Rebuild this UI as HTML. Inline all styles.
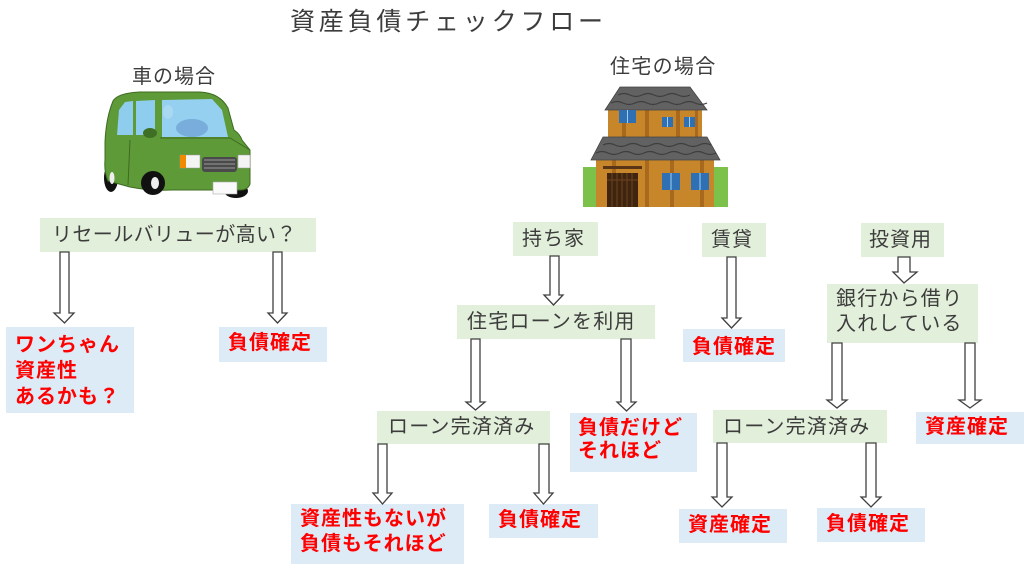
<!DOCTYPE html>
<html><head><meta charset="utf-8">
<style>
*{margin:0;padding:0;box-sizing:border-box}
body{width:1024px;height:573px;background:#fff;position:relative;overflow:hidden;font-family:"Liberation Sans","Noto Sans CJK JP",sans-serif}
.b{position:absolute}
.g{background:#E2EFDA}
.u{background:#DDEBF7}
.t{position:absolute;white-space:nowrap;font-size:20px;line-height:24px;letter-spacing:1px;color:#3c3c3c}
.r{position:absolute;white-space:nowrap;font-size:20px;line-height:24px;letter-spacing:1px;color:#ff0000;font-weight:bold}
svg{position:absolute;left:0;top:0}
</style></head><body>

<!-- boxes -->
<div class="b g" style="left:40px;top:218px;width:276px;height:34px"></div>
<div class="b g" style="left:513px;top:222px;width:85px;height:34px"></div>
<div class="b g" style="left:457px;top:305px;width:198px;height:34px"></div>
<div class="b g" style="left:377px;top:411px;width:173px;height:33px"></div>
<div class="b g" style="left:702px;top:223px;width:64px;height:34px"></div>
<div class="b g" style="left:861px;top:223px;width:83px;height:34px"></div>
<div class="b g" style="left:827px;top:284px;width:151px;height:59px"></div>
<div class="b g" style="left:713px;top:410px;width:174px;height:33px"></div>

<div class="b u" style="left:6px;top:327px;width:128px;height:86px"></div>
<div class="b u" style="left:219px;top:327px;width:108px;height:35px"></div>
<div class="b u" style="left:683px;top:329px;width:102px;height:33px"></div>
<div class="b u" style="left:570px;top:413px;width:127px;height:59px"></div>
<div class="b u" style="left:916px;top:412px;width:108px;height:32px"></div>
<div class="b u" style="left:291px;top:504px;width:173px;height:60px"></div>
<div class="b u" style="left:489px;top:504px;width:109px;height:34px"></div>
<div class="b u" style="left:679px;top:509px;width:108px;height:34px"></div>
<div class="b u" style="left:817px;top:508px;width:108px;height:34px"></div>

<svg width="1024" height="573" viewBox="0 0 1024 573">
<g fill="#fff" stroke="#404040" stroke-width="1.3" stroke-linejoin="miter">
<polygon points="60,252 69,252 69,313 74,313 64.5,323 54,313 60,313"/>
<polygon points="273,252 282,252 282,313 287,313 277.5,323 268,313 273,313"/>
<polygon points="550,256 559,256 559,295 563,295 553.5,305 544,295 550,295"/>
<polygon points="471,339 480,339 480,402 485,402 475.5,410 466,402 471,402"/>
<polygon points="621,339 631,339 631,402 636,402 626.5,411 617,402 621,402"/>
<polygon points="378,444 387,444 387,493 392,493 382.5,504 373,493 378,493"/>
<polygon points="539,444 549,444 549,493 553,493 543.5,504 534,493 539,493"/>
<polygon points="727,257 736,257 736,318 741,318 731.5,328 722,318 727,318"/>
<polygon points="898,257 910,257 910,272 917,272 904,283 893,272 898,272"/>
<polygon points="832,343 842,343 842,400 847,400 837,408 827,400 832,400"/>
<polygon points="965,343 975,343 975,400 981,400 970,408 959,400 965,400"/>
<polygon points="717,443 727,443 727,497 732,497 722,507 712,497 717,497"/>
<polygon points="866,443 876,443 876,497 881,497 871,507 861,497 866,497"/>
</g>

<!-- car -->
<g>
<ellipse cx="111" cy="178" rx="7" ry="14" fill="#111"/>
<ellipse cx="236" cy="191" rx="12" ry="7" fill="#111"/>
<path d="M105,142 Q106,118 113,101 Q118,93 140,92 L200,92 Q220,93 228,108 L234,130 Q240,134 242,140 L250,150 L250,184 Q248,190 240,190 L172,190 Q150,191 130,187 L108,181 Q104,172 105,160 Z" fill="#5e9a38" stroke="#3d6b22" stroke-width="1"/>
<polygon points="117,135 119,110 125,102 133,101 133,135" fill="#8fcdee"/>
<polygon points="136,101 155,100 155,135 136,135" fill="#8fcdee"/>
<polygon points="162,100 212,99 222,110 228,137 162,137" fill="#95d0f0"/>
<ellipse cx="192" cy="128" rx="16" ry="9" fill="#79addb"/>
<ellipse cx="168" cy="112" rx="5" ry="7" fill="#a9d8f2"/>
<ellipse cx="150" cy="133" rx="7" ry="5" fill="#3f6e25"/>
<path d="M160,138 L230,138 L250,150" fill="none" stroke="#3d6b22" stroke-width="1"/>
<path d="M130,140 L128,185" fill="none" stroke="#3d6b22" stroke-width="1"/>
<rect x="180" y="155" width="20" height="13" fill="#f4f4f4" stroke="#999" stroke-width="0.5"/>
<rect x="180" y="155" width="6" height="13" fill="#f08a00"/>
<rect x="238" y="155" width="12" height="13" fill="#f4f4f4" stroke="#999" stroke-width="0.5"/>
<rect x="202" y="157" width="35" height="15" rx="3" fill="#4a4a4a"/>
<g stroke="#9a9a9a" stroke-width="1"><line x1="204" y1="160" x2="235" y2="160"/><line x1="204" y1="164" x2="235" y2="164"/><line x1="204" y1="168" x2="235" y2="168"/></g>
<rect x="213" y="182" width="24" height="12" fill="#fafafa" stroke="#aaa" stroke-width="0.6"/>
<circle cx="153" cy="183" r="12" fill="#111"/>
<ellipse cx="155" cy="183" rx="4" ry="6" fill="#eee"/>
<ellipse cx="112" cy="178" rx="2.5" ry="6" fill="#eee"/>
</g>

<!-- house -->
<g>
<rect x="583" y="167" width="14" height="40" fill="#7cc24a"/>
<rect x="714" y="167" width="14" height="40" fill="#7cc24a"/>
<rect x="608" y="108" width="94" height="32" fill="#c8862a"/>
<g fill="#a8691e"><rect x="622" y="108" width="4" height="32"/><rect x="645" y="108" width="4" height="32"/><rect x="676" y="108" width="4" height="32"/><rect x="695" y="108" width="3" height="32"/></g>
<polygon points="620,87 690,87 707,110 605,110" fill="#626262" stroke="#444" stroke-width="0.8"/>
<path d="M618,95 q6,-3 12,0 q6,3 12,0 q6,-3 12,0 q6,3 12,0 q6,-3 12,0 q6,3 12,0 M611,103 q6,-3 12,0 q6,3 12,0 q6,-3 12,0 q6,3 12,0 q6,-3 12,0 q6,3 12,0 q6,-3 12,0 q6,3 12,0" fill="none" stroke="#3e3e3e" stroke-width="1.2"/>
<rect x="619" y="110" width="17" height="13" fill="#2f6fb4"/><line x1="627.5" y1="110" x2="627.5" y2="123" stroke="#9fd0f0"/>
<rect x="662" y="117" width="11" height="10" fill="#2f6fb4"/><line x1="667.5" y1="117" x2="667.5" y2="127" stroke="#9fd0f0"/>
<rect x="684" y="117" width="11" height="10" fill="#2f6fb4"/><line x1="689.5" y1="117" x2="689.5" y2="127" stroke="#9fd0f0"/>
<rect x="596" y="158" width="118" height="49" fill="#c8862a"/>
<g fill="#a8691e"><rect x="612" y="158" width="4" height="49"/><rect x="645" y="158" width="4" height="49"/><rect x="670" y="158" width="4" height="49"/><rect x="700" y="158" width="4" height="49"/></g>
<polygon points="603,137 707,137 720,160 591,160" fill="#626262" stroke="#444" stroke-width="0.8"/>
<path d="M603,145 q6,-3 12,0 q6,3 12,0 q6,-3 12,0 q6,3 12,0 q6,-3 12,0 q6,3 12,0 q6,-3 12,0 q6,3 12,0 q6,-3 12,0 M596,153 q6,-3 12,0 q6,3 12,0 q6,-3 12,0 q6,3 12,0 q6,-3 12,0 q6,3 12,0 q6,-3 12,0 q6,3 12,0 q6,-3 12,0 q6,3 12,0" fill="none" stroke="#3e3e3e" stroke-width="1.2"/>
<rect x="603" y="166" width="39" height="3" fill="#5a3515"/>
<rect x="607" y="173" width="31" height="34" fill="#3f2410"/>
<g stroke="#6b4420" stroke-width="1"><line x1="612" y1="173" x2="612" y2="207"/><line x1="617" y1="173" x2="617" y2="207"/><line x1="622" y1="173" x2="622" y2="207"/><line x1="627" y1="173" x2="627" y2="207"/><line x1="632" y1="173" x2="632" y2="207"/><line x1="607" y1="180" x2="638" y2="180"/></g>
<rect x="662" y="173" width="18" height="17" fill="#2f6fb4"/><line x1="671" y1="173" x2="671" y2="190" stroke="#9fd0f0"/>
<rect x="691" y="173" width="18" height="17" fill="#2f6fb4"/><line x1="700" y1="173" x2="700" y2="190" stroke="#9fd0f0"/>
</g>
</svg>

<!-- titles -->
<div class="t" style="left:290px;top:6px;font-size:25px;line-height:32px;letter-spacing:3.8px">資産負債チェックフロー</div>
<div class="t" style="left:132px;top:65px;font-size:20px;letter-spacing:1px">車の場合</div>
<div class="t" style="left:610px;top:55px;font-size:20px;letter-spacing:1.3px">住宅の場合</div>

<!-- gray labels -->
<div class="t" style="left:52px;top:223px;letter-spacing:0.4px">リセールバリューが高い？</div>
<div class="t" style="left:522px;top:227px">持ち家</div>
<div class="t" style="left:467px;top:310px;letter-spacing:1.2px">住宅ローンを利用</div>
<div class="t" style="left:388px;top:415px;letter-spacing:1.2px">ローン完済済み</div>
<div class="t" style="left:711px;top:228px">賃貸</div>
<div class="t" style="left:869px;top:228px">投資用</div>
<div class="t" style="left:836px;top:287px;line-height:25px;letter-spacing:1.2px">銀行から借り<br>入れしている</div>
<div class="t" style="left:723px;top:415px;letter-spacing:1.2px">ローン完済済み</div>

<!-- red labels -->
<div class="r" style="left:15px;top:332px;line-height:26px">ワンちゃん<br>資産性<br>あるかも？</div>
<div class="r" style="left:228px;top:331px">負債確定</div>
<div class="r" style="left:692px;top:335px">負債確定</div>
<div class="r" style="left:578px;top:417px;line-height:23px">負債だけど<br>それほど</div>
<div class="r" style="left:925px;top:415px">資産確定</div>
<div class="r" style="left:300px;top:507px;line-height:25px">資産性もないが<br>負債もそれほど</div>
<div class="r" style="left:498px;top:508px">負債確定</div>
<div class="r" style="left:688px;top:513px">資産確定</div>
<div class="r" style="left:826px;top:512px">負債確定</div>

</body></html>
